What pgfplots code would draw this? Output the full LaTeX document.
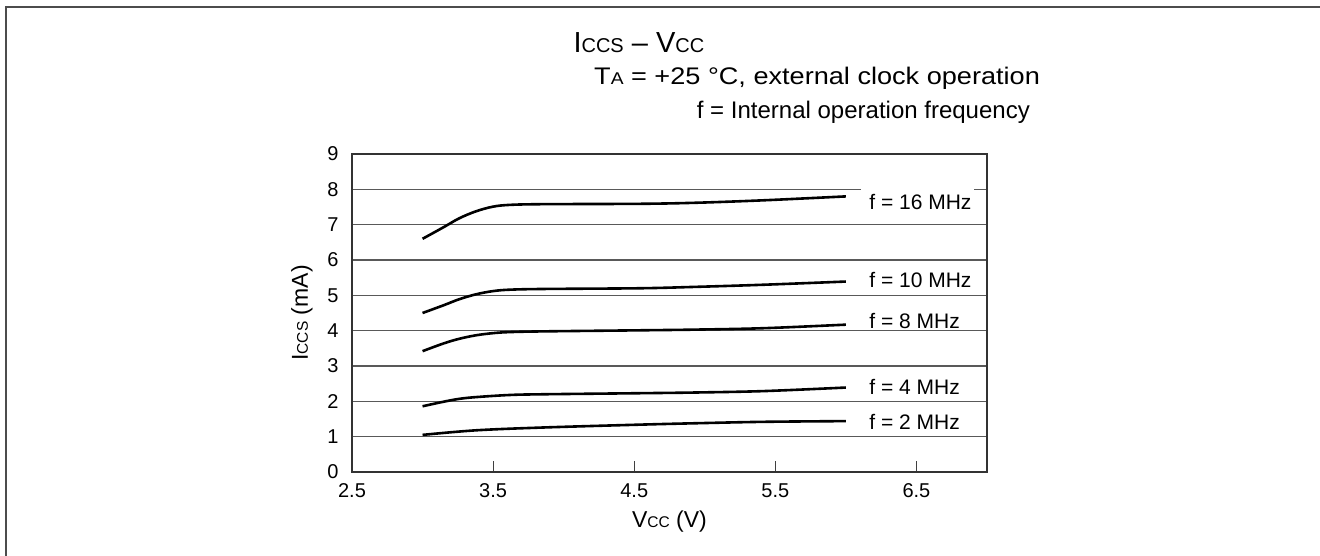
\documentclass[border=0pt]{standalone}
\usepackage{fontspec}
\setmainfont{Liberation Sans}
\usepackage{graphicx}
\usepackage{pgfplots}
\pgfplotsset{compat=1.18}
\newcommand{\sm}[1]{{\fontsize{15.5pt}{16pt}\selectfont #1}}
\begin{document}
\begin{tikzpicture}
\fontsize{19pt}{22pt}\selectfont
\path[use as bounding box] (0pt,0pt) rectangle (1320pt,556pt);
\draw[line width=2pt, black!70] (6pt,0pt) -- (6pt,549pt) -- (1320pt,549pt);
\node[anchor=base west, font=\fontsize{29pt}{32pt}\selectfont] at (567pt,503pt) {I{\fontsize{20pt}{22pt}\selectfont CCS} -- V{\fontsize{20pt}{22pt}\selectfont CC}};
\node[anchor=base west, font=\fontsize{24pt}{28pt}\selectfont, inner sep=0pt] at (594pt,471pt) {\scalebox{1.13}[1]{T{\fontsize{17pt}{20pt}\selectfont A} = +25 °C, external clock operation}};
\node[anchor=base east, font=\fontsize{24pt}{27pt}\selectfont, inner sep=0pt] at (1030pt,437pt) {f = Internal operation frequency};
\begin{axis}[
  at={(352pt,84pt)}, anchor=south west,
  width=635pt, height=318pt, scale only axis,
  xmin=2.5, xmax=7, ymin=0, ymax=9,
  xtick={2.5,3.5,4.5,5.5,6.5},
  xticklabels={2.5,3.5,4.5,5.5,6.5},
  ytick={0,1,...,9},
  xtick pos=bottom, ytick pos=left,
  tick align=inside,
  major tick length=11pt,
  xtick style={black!75, line width=1.2pt},
  ytick style={draw=none},
  ymajorgrids,
  grid style={black!65, line width=1.2pt},
  axis line style={black!80, line width=2.6pt},
  /pgf/number format/assume math mode=true,
  ticklabel style={font=\fontsize{20pt}{22pt}\selectfont},
  yticklabel style={xshift=-7pt},
  xticklabel style={yshift=-5pt},
  xlabel={V\sm{CC} (V)},
  ylabel={I\sm{CCS} (mA)},
  label style={font=\fontsize{23pt}{25pt}\selectfont},
  xlabel style={at={(axis description cs:0.5,-0.157)}, anchor=center},
  ylabel style={at={(axis description cs:-0.0787,0.5)}, anchor=center},
]
\addplot[black, line width=2.6pt, smooth, tension=0.55, mark=none] coordinates {(3.0,6.60)(3.15,6.93)(3.26,7.18)(3.38,7.38)(3.50,7.51)(3.62,7.56)(3.86,7.58)(4.54,7.59)(4.94,7.62)(5.42,7.69)(6.0,7.80)};
\addplot[black, line width=2.6pt, smooth, tension=0.55, mark=none] coordinates {(3.0,4.50)(3.15,4.72)(3.26,4.89)(3.38,5.03)(3.50,5.12)(3.62,5.16)(3.86,5.18)(4.54,5.20)(4.94,5.24)(5.42,5.30)(6.0,5.39)};
\addplot[black, line width=2.6pt, smooth, tension=0.55, mark=none] coordinates {(3.0,3.42)(3.15,3.64)(3.26,3.77)(3.38,3.87)(3.50,3.93)(3.62,3.96)(3.86,3.98)(4.54,4.01)(4.94,4.03)(5.42,4.07)(6.0,4.17)};
\addplot[black, line width=2.6pt, smooth, tension=0.55, mark=none] coordinates {(3.0,1.86)(3.15,1.99)(3.26,2.07)(3.38,2.12)(3.62,2.18)(3.86,2.20)(4.54,2.23)(4.94,2.25)(5.42,2.29)(6.0,2.39)};
\addplot[black, line width=2.6pt, smooth, tension=0.55, mark=none] coordinates {(3.0,1.05)(3.38,1.18)(3.86,1.26)(4.54,1.34)(4.94,1.38)(5.42,1.42)(6.0,1.44)};
\fill[white] (axis cs:6.11,7.88) rectangle (axis cs:6.91,8.12);
\begin{scope}[every node/.style={anchor=base west, inner sep=0pt, font=\fontsize{21pt}{24pt}\selectfont}]
\node at (axis cs:6.165,7.43) {f = 16 MHz};
\node at (axis cs:6.165,5.23) {f = 10 MHz};
\node at (axis cs:6.165,4.07) {f = 8 MHz};
\node at (axis cs:6.165,2.18) {f = 4 MHz};
\node at (axis cs:6.165,1.19) {f = 2 MHz};
\end{scope}
\end{axis}
\end{tikzpicture}
\end{document}
